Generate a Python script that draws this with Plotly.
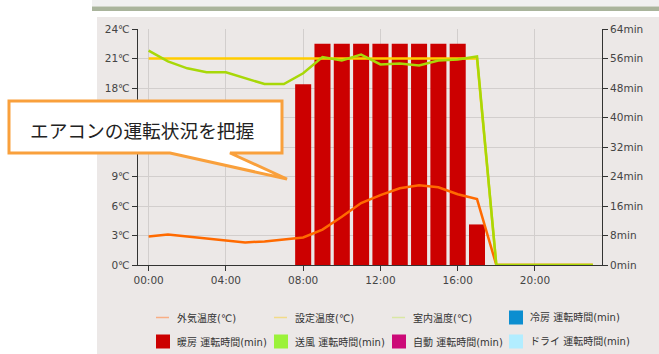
import plotly.graph_objects as go

# ---- data -------------------------------------------------------------
hours = list(range(24))
x_tick_vals = [0, 4, 8, 12, 16, 20]
x_tick_text = ["00:00", "04:00", "08:00", "12:00", "16:00", "20:00"]

temp_tick_vals = [0, 3, 6, 9, 12, 15, 18, 21, 24]
# 12℃ and 15℃ sit behind the callout bubble, so they are left blank
temp_tick_text = ["0℃", "3℃", "6℃", "9℃", "", "", "18℃", "21℃", "24℃"]
min_tick_vals = [0, 8, 16, 24, 32, 40, 48, 56, 64]
min_tick_text = ["0min", "8min", "16min", "24min", "32min", "40min", "48min", "56min", "64min"]

outside_temp = [2.9, 3.1, 2.9, 2.7, 2.5, 2.3, 2.4, 2.6, 2.8, 3.6, 4.9, 6.3,
                7.1, 7.8, 8.1, 7.9, 7.2, 6.7, 0, 0, 0, 0, 0, 0]
set_temp = [21, 21, 21, 21, 21, 21, 21, 21, 21, 21, 21, 21,
            21, 21, 21, 21, 21, 21, 0, 0, 0, 0, 0, 0]
room_temp = [21.8, 20.7, 20.0, 19.6, 19.6, 19.0, 18.4, 18.4, 19.5, 21.15, 20.8, 21.4,
             20.4, 20.5, 20.3, 20.8, 20.9, 21.2, 0, 0, 0, 0, 0, 0]

heating_min = [0, 0, 0, 0, 0, 0, 0, 0, 49, 60, 60, 60,
               60, 60, 60, 60, 60, 11, 0, 0, 0, 0, 0, 0]
cooling_min = [0, 0, 0, 0, 0, 0, 0, 0, 0, 0, 0, 0,
               0, 0, 0, 0, 0, 0, 0, 0, 0, 0, 0, 0]
fan_min = [0, 0, 0, 0, 0, 0, 0, 0, 0, 0, 0, 0,
           0, 0, 0, 0, 0, 0, 0, 0, 0, 0, 0, 0]
auto_min = [0, 0, 0, 0, 0, 0, 0, 0, 0, 0, 0, 0,
            0, 0, 0, 0, 0, 0, 0, 0, 0, 0, 0, 0]
dry_min = [0, 0, 0, 0, 0, 0, 0, 0, 0, 0, 0, 0,
           0, 0, 0, 0, 0, 0, 0, 0, 0, 0, 0, 0]

callout_text = "エアコンの運転状況を把握"

# legend rows: (label, kind, colour)
legend_row1 = [("外気温度(℃)", "line", "#F8AE84"),
               ("設定温度(℃)", "line", "#F2DB88"),
               ("室内温度(℃)", "line", "#D9E7A4"),
               ("冷房 運転時間(min)", "box", "#0C8ED0")]
legend_row2 = [("暖房 運転時間(min)", "box", "#CC0000"),
               ("送風 運転時間(min)", "box", "#9BF23A"),
               ("自動 運転時間(min)", "box", "#CC0A78"),
               ("ドライ 運転時間(min)", "box", "#B2EDFF")]

# ---- canvas geometry ---------------------------------------------------
W, H = 659, 354
ML, MR, MT, MB = 138, 57, 29, 89
PW, PH = W - ML - MR, H - MT - MB

FONT = "DejaVu Sans, Noto Sans CJK JP, sans-serif"
BG = "#ECE8E7"
GRID = "#D2CECD"
AXIS = "#333333"


def fx(px):
    return (px - ML) / PW


def fy(py):
    return (H - MB - py) / PH


fig = go.Figure()

# running-time bars (minutes, primary axis on the right)
bar_series = [("暖房", heating_min, "#CC0000"),
              ("冷房", cooling_min, "#0C8ED0"),
              ("送風", fan_min, "#9BF23A"),
              ("自動", auto_min, "#CC0A78"),
              ("ドライ", dry_min, "#B2EDFF")]
for name, vals, col in bar_series:
    fig.add_trace(go.Bar(
        x=hours, y=vals, name=name, width=0.83,
        marker=dict(color=col, line=dict(width=0)),
        yaxis="y", showlegend=False, hoverinfo="skip"))

# temperature lines (°C, overlaying axis on the left)
line_series = [("外気温度", outside_temp, "#FF6A00"),
               ("設定温度", set_temp, "#FFCC00"),
               ("室内温度", room_temp, "#A8D808")]
for name, vals, col in line_series:
    fig.add_trace(go.Scatter(
        x=hours, y=vals, name=name, mode="lines",
        line=dict(color=col, width=2.5),
        yaxis="y2", showlegend=False, hoverinfo="skip"))

shapes = [
    # page furniture behind the chart
    dict(type="rect", xref="paper", yref="paper", layer="below",
         x0=fx(92), x1=fx(W + 2), y0=fy(0), y1=fy(6.5),
         fillcolor="#F0F0F0", line=dict(width=0)),
    dict(type="rect", xref="paper", yref="paper", layer="below",
         x0=fx(92), x1=fx(W + 2), y0=fy(6.5), y1=fy(11),
         fillcolor="#A9B49C", line=dict(width=0)),
    dict(type="rect", xref="paper", yref="paper", layer="below",
         x0=fx(97), x1=fx(W + 2), y0=fy(17), y1=fy(H + 2),
         fillcolor=BG, line=dict(width=0)),
]

# speech-bubble callout
bubble = [(9, 101), (282, 101), (282, 153), (230, 153), (287, 179), (170, 153), (9, 153)]
path = "M " + " L ".join(f"{fx(px):.5f},{fy(py):.5f}" for px, py in bubble) + " Z"
shapes.append(dict(type="path", xref="paper", yref="paper", layer="above",
                   path=path, fillcolor="white",
                   line=dict(color="#F9A03C", width=3)))

annotations = [dict(xref="paper", yref="paper", x=fx(142), y=fy(129.5),
                    text=callout_text, showarrow=False,
                    xanchor="center", yanchor="middle",
                    font=dict(family="Noto Sans CJK JP", size=18.7, color="#222222"))]

# hand-placed legend
col_x = [156, 274, 392, 509]
for row_y, row in ((317.5, legend_row1), (341.5, legend_row2)):
    for cx, (label, kind, col) in zip(col_x, row):
        if kind == "line":
            shapes.append(dict(type="line", xref="paper", yref="paper",
                               x0=fx(cx), x1=fx(cx + 13), y0=fy(row_y), y1=fy(row_y),
                               line=dict(color=col, width=1.5)))
        else:
            shapes.append(dict(type="rect", xref="paper", yref="paper",
                               x0=fx(cx), x1=fx(cx + 14), y0=fy(row_y - 7), y1=fy(row_y + 7),
                               fillcolor=col, line=dict(width=0)))
        annotations.append(dict(xref="paper", yref="paper", x=fx(cx + 19), y=fy(row_y),
                                text=label, showarrow=False,
                                xanchor="left", yanchor="middle",
                                font=dict(family=FONT, size=10, color="#333333")))

fig.update_layout(
    width=W, height=H,
    margin=dict(l=ML, r=MR, t=MT, b=MB, pad=0),
    paper_bgcolor="white", plot_bgcolor=BG,
    font=dict(family=FONT, size=10.5, color="#444444"),
    barmode="overlay",
    showlegend=False,
    xaxis=dict(range=[-0.55, 23.47], tickvals=x_tick_vals, ticktext=x_tick_text,
               showgrid=True, gridcolor=GRID, gridwidth=1, zeroline=False,
               showline=True, linecolor=AXIS, linewidth=1,
               ticks="outside", ticklen=5, tickcolor=AXIS),
    yaxis=dict(range=[0, 64], tickvals=min_tick_vals, ticktext=min_tick_text,
               side="right", showgrid=False, zeroline=False,
               showline=True, linecolor=AXIS, linewidth=1,
               ticks="outside", ticklen=5, tickcolor=AXIS),
    yaxis2=dict(range=[0, 24], tickvals=temp_tick_vals, ticktext=temp_tick_text,
                overlaying="y", side="left", showgrid=True, gridcolor=GRID, gridwidth=1,
                zeroline=False, showline=True, linecolor=AXIS, linewidth=1,
                ticks="outside", ticklen=5, tickcolor=AXIS),
    shapes=shapes,
    annotations=annotations,
)

fig.write_html("out.html")
